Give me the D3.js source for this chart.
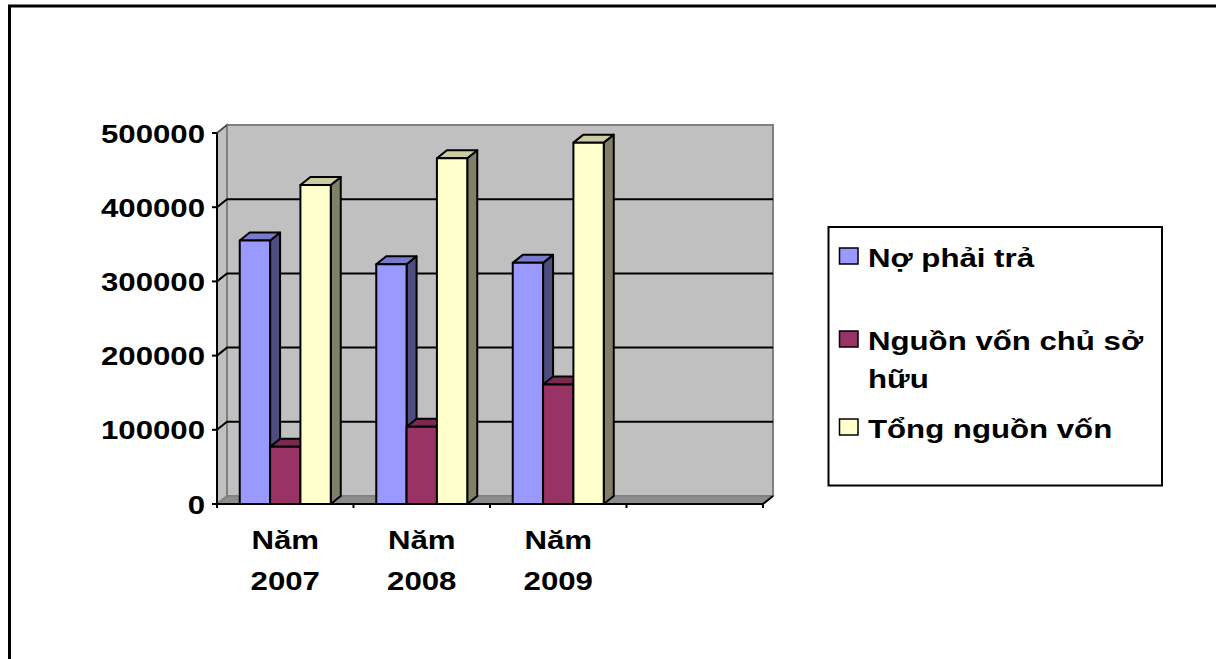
<!DOCTYPE html>
<html>
<head>
<meta charset="utf-8">
<script src="https://cdn.jsdelivr.net/npm/d3@7/dist/d3.min.js"></script>
<style>
  html, body { margin: 0; padding: 0; background: #fff; }
  svg { display: block; }
  text { font-family: Arial, "Liberation Sans", sans-serif; font-weight: bold; font-size: 26px; fill: #000; }
</style>
</head>
<body>
<svg id="chart" width="1216" height="659"></svg>
<script>
// Balance-sheet structure by year (VND million)
const categories = ["Năm 2007", "Năm 2008", "Năm 2009", ""];
const seriesNames = ["Nợ phải trả", "Nguồn vốn chủ sở hữu", "Tổng nguồn vốn"];
const noPhaiTra = [355000, 323000, 325000];
const nguonVonChuSoHuu = [77000, 104000, 161000];
const tongNguonVon = [430000, 466000, 487000];
const yTickValues = [0, 100000, 200000, 300000, 400000, 500000];

const seriesValues = [noPhaiTra, nguonVonChuSoHuu, tongNguonVon];
const fills = ["#9999FF", "#993366", "#FFFFCC"];

const svg = d3.select("#chart");
const W = 1216, H = 659;
const SX = 1.2; // horizontal text stretch

// outer frame (runs past the right and bottom edges)
svg.append("path")
  .attr("d", `M9.5,${H + 5} L9.5,6 L${W + 5},6`)
  .attr("fill", "none").attr("stroke", "#000").attr("stroke-width", 3);

// 3D plot geometry
const front = { left: 217, right: 763, bottom: 504, top: 133 };
const depth = { dx: 10, dy: -8 };

const y = d3.scaleLinear().domain([0, 500000]).range([front.bottom, front.top]);
const x = d3.scaleBand().domain(categories.map((c, i) => i)).range([front.left, front.right]).padding(0);
const xs = d3.scaleBand().domain(d3.range(seriesNames.length)).range([0, x.bandwidth()])
  .paddingInner(0).paddingOuter(0.75);

const pt = (px, py) => `${px},${py}`;
const poly = pts => pts.map(p => pt(p[0], p[1])).join(" ");

const plot = svg.append("g");

// back wall
plot.append("polygon")
  .attr("points", poly([
    [front.left + depth.dx, front.bottom + depth.dy],
    [front.right + depth.dx, front.bottom + depth.dy],
    [front.right + depth.dx, front.top + depth.dy],
    [front.left + depth.dx, front.top + depth.dy]
  ]))
  .attr("fill", "#C0C0C0").attr("stroke", "#808080").attr("stroke-width", 2);

// side wall
plot.append("polygon")
  .attr("points", poly([
    [front.left, front.bottom],
    [front.left + depth.dx, front.bottom + depth.dy],
    [front.left + depth.dx, front.top + depth.dy],
    [front.left, front.top]
  ]))
  .attr("fill", "#C0C0C0").attr("stroke", "#808080").attr("stroke-width", 2);

// floor
plot.append("polygon")
  .attr("points", poly([
    [front.left, front.bottom],
    [front.right, front.bottom],
    [front.right + depth.dx, front.bottom + depth.dy],
    [front.left + depth.dx, front.bottom + depth.dy]
  ]))
  .attr("fill", "#8C8C8C").attr("stroke", "#808080").attr("stroke-width", 1.5);

// gridlines on the walls
yTickValues.filter(v => v > 0 && v < 500000).forEach(v => {
  const yy = y(v);
  plot.append("polyline")
    .attr("points", poly([
      [front.left, yy],
      [front.left + depth.dx, yy + depth.dy],
      [front.right + depth.dx, yy + depth.dy]
    ]))
    .attr("fill", "none").attr("stroke", "#000").attr("stroke-width", 2);
});
// top diagonal from the axis to the wall
plot.append("line")
  .attr("x1", front.left).attr("y1", y(500000))
  .attr("x2", front.left + depth.dx).attr("y2", y(500000) + depth.dy)
  .attr("stroke", "#404040").attr("stroke-width", 1.5);

// bars
const bars = plot.append("g").attr("stroke", "#000").attr("stroke-width", 2).attr("stroke-linejoin", "round");
const shade = (c, k) => { const r = d3.rgb(c); return d3.rgb(r.r * k, r.g * k, r.b * k).formatHex(); };
categories.forEach((cat, i) => {
  seriesValues.forEach((vals, j) => {
    const v = vals[i];
    if (v === undefined) return;
    const x0 = x(i) + xs(j);
    const w = xs.bandwidth();
    const yt = y(v), yb = y(0);
    // side face
    bars.append("polygon")
      .attr("points", poly([
        [x0 + w, yt], [x0 + w + depth.dx, yt + depth.dy],
        [x0 + w + depth.dx, yb + depth.dy], [x0 + w, yb]
      ]))
      .attr("fill", shade(fills[j], 0.5));
    // top face
    bars.append("polygon")
      .attr("points", poly([
        [x0, yt], [x0 + depth.dx, yt + depth.dy],
        [x0 + w + depth.dx, yt + depth.dy], [x0 + w, yt]
      ]))
      .attr("fill", shade(fills[j], 0.8));
    // front face
    bars.append("rect")
      .attr("x", x0).attr("y", yt).attr("width", w).attr("height", yb - yt)
      .attr("fill", fills[j]);
  });
});

// value axis
const axes = svg.append("g").attr("stroke", "#000").attr("stroke-width", 2);
axes.append("line").attr("x1", front.left).attr("x2", front.left)
  .attr("y1", front.top).attr("y2", front.bottom + 4);
yTickValues.forEach(v => {
  axes.append("line").attr("x1", front.left - 5).attr("x2", front.left)
    .attr("y1", y(v)).attr("y2", y(v));
});
// category axis
axes.append("polyline")
  .attr("points", poly([
    [front.left, front.bottom], [front.right, front.bottom],
    [front.right + depth.dx, front.bottom + depth.dy]
  ]))
  .attr("fill", "none");
categories.forEach((c, i) => {
  const xx = x(i) + x.bandwidth();
  axes.append("line").attr("x1", xx).attr("x2", xx)
    .attr("y1", front.bottom).attr("y2", front.bottom + 4);
});

// stretched text helper
function label(parent, px, py, str, anchor) {
  const g = parent.append("g").attr("transform", `translate(${px},${py}) scale(${SX},1)`);
  return g.append("text").attr("text-anchor", anchor || "start").text(str);
}
// word-wrap by measured width
function wrapWords(str, maxWidth) {
  const probe = svg.append("text").attr("visibility", "hidden");
  const words = str.split(/\s+/).filter(Boolean);
  const lines = [];
  let cur = "";
  words.forEach(wd => {
    const test = cur ? cur + " " + wd : wd;
    probe.text(test);
    if (cur && probe.node().getComputedTextLength() * SX > maxWidth) {
      lines.push(cur); cur = wd;
    } else cur = test;
  });
  if (cur) lines.push(cur);
  probe.remove();
  return lines;
}

// value tick labels
const yLabels = svg.append("g");
yTickValues.forEach(v => label(yLabels, 205, y(v) + 9.5, String(v), "end"));

// category labels
const xLabels = svg.append("g");
categories.forEach((c, i) => {
  const lines = wrapWords(c, x.bandwidth() - 20);
  lines.forEach((ln, k) => label(xLabels, x(i) + x.bandwidth() / 2, 549 + k * 41, ln, "middle"));
});

// legend
const legend = svg.append("g");
legend.append("rect").attr("x", 828.5).attr("y", 227).attr("width", 333.5).attr("height", 258.5)
  .attr("fill", "#fff").attr("stroke", "#000").attr("stroke-width", 2);
const legendBaselines = [267, 350, 438];
seriesNames.forEach((name, j) => {
  const by = legendBaselines[j];
  legend.append("rect").attr("x", 839.5).attr("y", by - 19).attr("width", 18.5).attr("height", 16)
    .attr("fill", fills[j]).attr("stroke", "#000").attr("stroke-width", 1.5);
  const lines = wrapWords(name, 1158 - 869);
  lines.forEach((ln, k) => label(legend, 868, by + k * 38, ln, "start"));
});
</script>
</body>
</html>
